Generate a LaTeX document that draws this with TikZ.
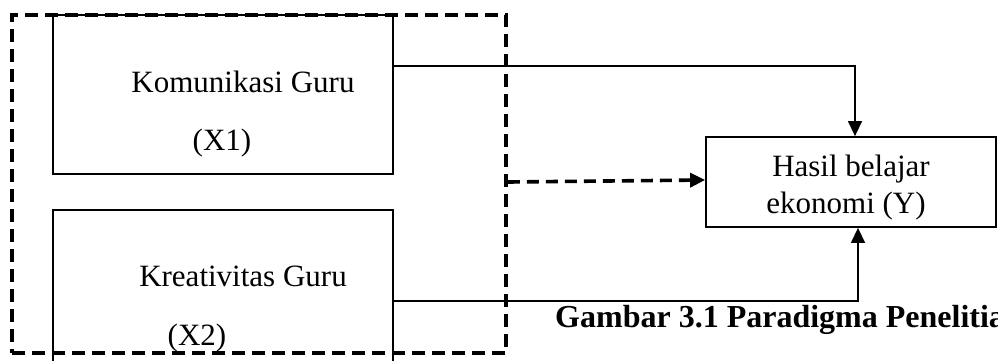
\documentclass[tikz,border=0pt]{standalone}
\usepackage{fontspec}
\setmainfont{Liberation Serif}
\usetikzlibrary{arrows.meta,calc}
\begin{document}
\begin{tikzpicture}[x=1pt,y=-1pt,
  box/.style={draw,line width=1.8pt,inner sep=0pt},
  grpbox/.style={draw,line width=3.8pt,dash pattern=on 13pt off 7pt,inner sep=0pt},
  conn/.style={line width=1.4pt},
  dconn/.style={line width=3.6pt,dash pattern=on 12pt off 7pt},
  tip/.style={-{Triangle[length=15pt,width=14pt]}},
  lbl/.style={font=\fontsize{31}{36}\selectfont,inner sep=0pt,anchor=base},
  captxt/.style={font=\fontsize{32}{37}\selectfont\bfseries,inner sep=0pt,anchor=base west}]
\useasboundingbox (0,0) rectangle (998,360);
\node[box,minimum width=340pt,minimum height=159pt] (box1) at (223,94.5) {};
\node[box,minimum width=340pt,minimum height=175pt] (box2) at (223,297.5) {};
\node[grpbox,minimum width=494pt,minimum height=338pt] (grp) at (259,184) {};
\node[box,minimum width=290pt,minimum height=90pt] (Y) at (851,182) {};
\node[lbl] (t1) at (243,92) {Komunikasi Guru};
\node[lbl] (t2) at (222,150) {(X1)};
\node[lbl] (t3) at (243,286) {Kreativitas Guru};
\node[lbl] (t4) at (197,345) {(X2)};
\node[lbl] (t5) at (851,176) {Hasil belajar};
\node[lbl] (t6) at (846,213) {ekonomi (Y)};
\node[captxt] (capt) at (555,327) {Gambar 3.1 Paradigma Penelitian};
\draw[conn,tip] ([yshift=-52pt]box1.north east) -| ([xshift=4pt]Y.north);
\draw[conn,tip] ([yshift=-92pt]box2.north east) -| ([xshift=7pt]Y.south);
\draw[dconn,tip] ([yshift=2pt]grp.east) -- ([yshift=2pt]Y.west);
\end{tikzpicture}
\end{document}
